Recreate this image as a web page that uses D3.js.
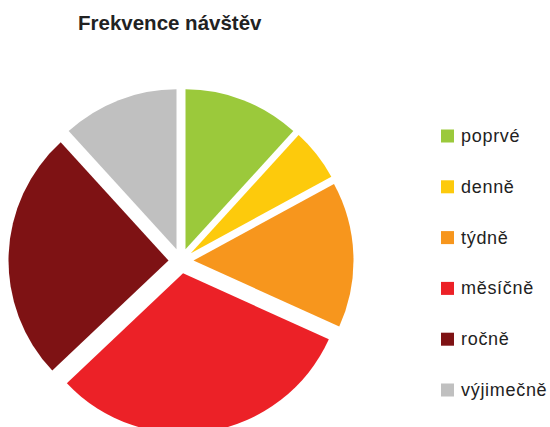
<!DOCTYPE html>
<html>
<head>
<meta charset="utf-8">
<script src="https://cdn.jsdelivr.net/npm/d3@7"></script>
<style>
  body { margin: 0; background: #fff; }
  svg { display: block; }
  text { font-family: "Liberation Sans", Arial, sans-serif; fill: #222; }
</style>
</head>
<body>
<svg width="550" height="427"></svg>
<script>
var categories = ["poprvé", "denně", "týdně", "měsíčně", "ročně", "výjimečně"]
var values = [20, 9, 25, 53, 43, 20]
var colors = ["#9bc93b", "#fdca0c", "#f7961d", "#ec2127", "#7e1214", "#c0c0c0"]

var svg = d3.select("svg")

var cx = 181, cy = 261, radius = 160, explode = 12.5

svg.append("text")
    .attr("x", 78)
    .attr("y", 30)
    .attr("font-size", 20.5)
    .attr("font-weight", "bold")
    .text("Frekvence návštěv")

var pie = d3.pie().sort(null).value(function(d) { return d })
var arc = d3.arc().innerRadius(0).outerRadius(radius)

var g = svg.append("g").attr("transform", "translate(" + cx + "," + cy + ")")

g.selectAll("path")
    .data(pie(values))
    .join("path")
    .attr("d", arc)
    .attr("fill", function(d, i) { return colors[i] })
    .attr("transform", function(d) {
        var mid = (d.startAngle + d.endAngle) / 2
        return "translate(" + explode * Math.sin(mid) + "," + (-explode * Math.cos(mid)) + ")"
    })

// legend
var legendY = d3.scalePoint().domain(categories).range([136, 390])

var leg = svg.append("g")
    .selectAll("g")
    .data(categories)
    .join("g")
    .attr("transform", function(d) { return "translate(441," + legendY(d) + ")" })

leg.append("rect")
    .attr("x", 0)
    .attr("y", -6.5)
    .attr("width", 13)
    .attr("height", 13)
    .attr("fill", function(d, i) { return colors[i] })

leg.append("text")
    .attr("x", 20)
    .attr("y", 6)
    .attr("font-size", 18)
    .attr("letter-spacing", 0.7)
    .text(function(d) { return d })
</script>
</body>
</html>
